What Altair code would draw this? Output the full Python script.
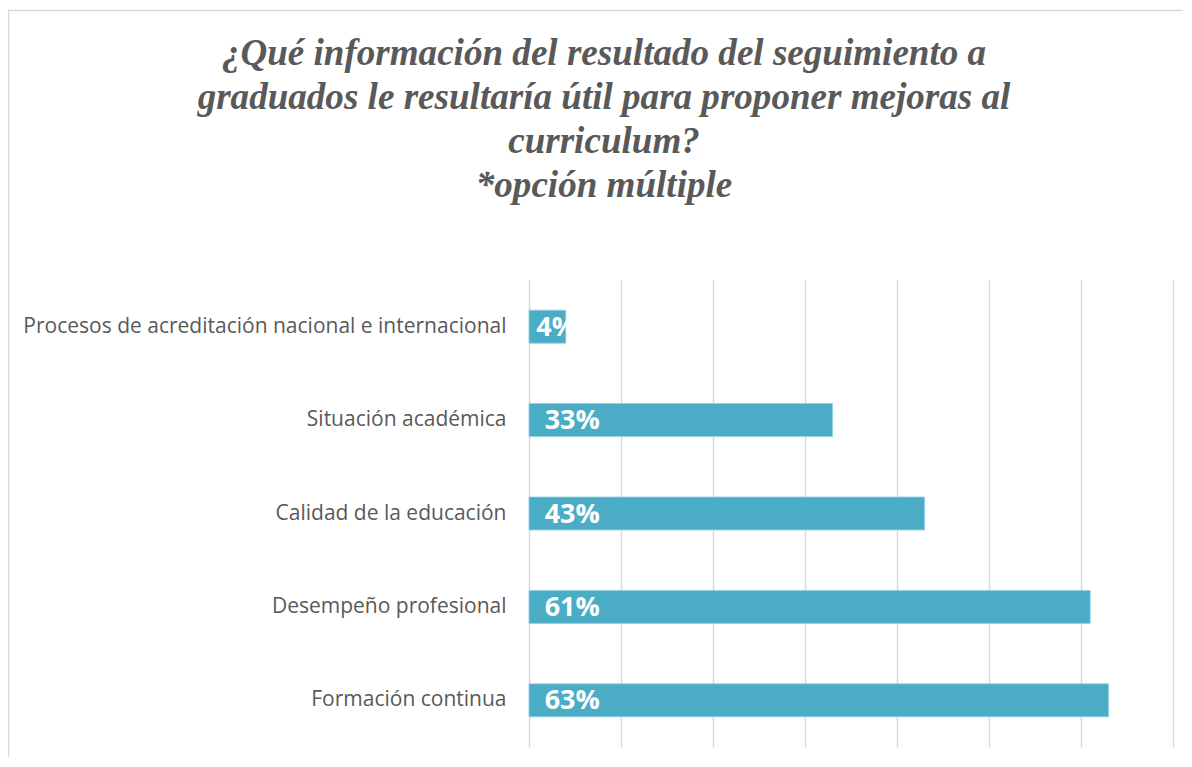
import altair as alt
import pandas as pd

categories = [
    "Procesos de acreditación nacional e internacional",
    "Situación académica",
    "Calidad de la educación",
    "Desempeño profesional",
    "Formación continua",
]
values = [4, 33, 43, 61, 63]
labels = ["4%", "33%", "43%", "61%", "63%"]
title_lines = [
    "¿Qué información del resultado del seguimiento a",
    "graduados le resultaría útil para proponer mejoras al",
    "curriculum?",
    "*opción múltiple",
]
x_ticks = [0, 10, 20, 30, 40, 50, 60, 70]

df = pd.DataFrame({"cat": categories, "value": values, "label": labels})

W, H = 644, 467
PL, PT, PR, PB = 521, 272, 10, 10
xscale = alt.Scale(domain=[0, 70], nice=False, zero=True)
yscale = alt.Scale(paddingInner=0.647, paddingOuter=0.3235)

base = alt.Chart(df)

bars = base.mark_bar(color="#4BACC6", stroke="#8fd0e0", strokeWidth=0.8).encode(
    x=alt.X("value:Q", scale=xscale, title=None,
            axis=alt.Axis(values=x_ticks, labels=False, ticks=False, domain=False,
                          grid=True, gridColor="#d9d9d9", gridWidth=1.5)),
    y=alt.Y("cat:N", sort=categories, title=None, scale=yscale,
            axis=alt.Axis(domain=False, ticks=False, labelPadding=23,
                          labelFont="Open Sans", labelFontSize=21,
                          labelColor="#595959", labelLimit=700)),
)

text = base.transform_calculate(lx="min(datum.value * 0.2, 1.7)").mark_text(
    align="left", baseline="middle", font="Open Sans", fontWeight="bold",
    fontSize=27, color="white", dy=1
).encode(
    x=alt.X("lx:Q", scale=xscale, title=None),
    y=alt.Y("cat:N", sort=categories, scale=yscale, title=None),
    text="label:N",
)

one = alt.Chart(pd.DataFrame({"k": [0]}))

title = one.mark_text(
    text=title_lines, font="Liberation Serif", fontStyle="italic", fontWeight="bold",
    fontSize=37.1, color="#595959", align="center", baseline="alphabetic", lineHeight=44,
).encode(x=alt.value(75), y=alt.value(-215))

frame_top = one.mark_rule(color="#d9d9d9", strokeWidth=1.5).encode(
    x=alt.value(-520.5), x2=alt.value(W + PR), y=alt.value(-269.5))
frame_left = one.mark_rule(color="#d9d9d9", strokeWidth=1.5).encode(
    x=alt.value(-520.5), y=alt.value(-269.5), y2=alt.value(H + PB))

chart = alt.layer(frame_top, frame_left, bars, text, title).properties(
    width=W, height=H,
    autosize=alt.AutoSizeParams(type="none"),
    padding={"left": PL, "top": PT, "right": PR, "bottom": PB},
    background="white",
).configure_view(stroke=None)

chart.save("out.html", embed_options={"renderer": "svg", "actions": False})
